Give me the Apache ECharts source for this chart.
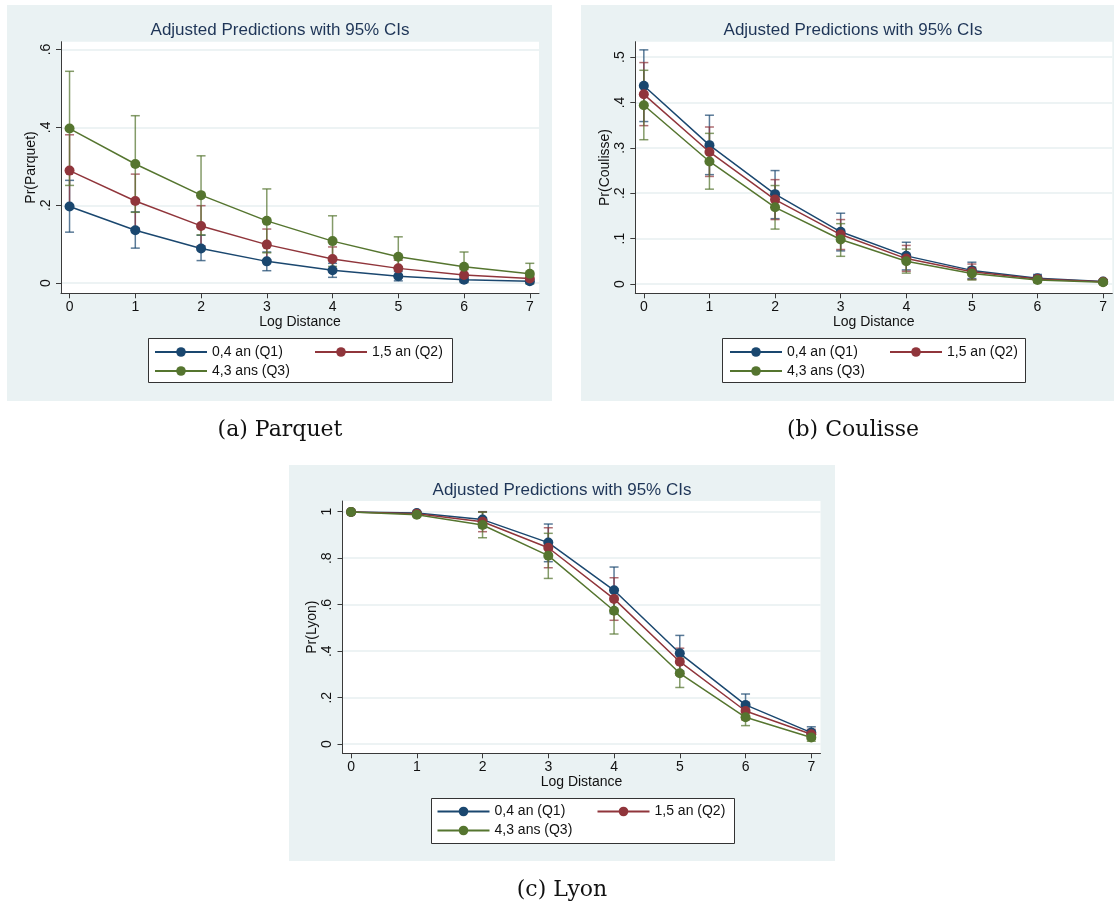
<!DOCTYPE html>
<html><head><meta charset="utf-8">
<script src="https://cdn.jsdelivr.net/npm/echarts@6/dist/echarts.min.js"></script>
<style>html,body{margin:0;padding:0;background:#fff}#c{width:1120px;height:905px}</style>
</head><body><div id="c"></div><script>
// ---------- DATA ----------
const logDistance = [0, 1, 2, 3, 4, 5, 6, 7];
const xTickValues = [0, 1, 2, 3, 4, 5, 6, 7];
const seriesNames = ['0,4 an (Q1)', '1,5 an (Q2)', '4,3 ans (Q3)'];

// Parquet
const parquetQ1   = [0.197, 0.136, 0.089, 0.056, 0.033, 0.018, 0.009, 0.005];
const parquetQ1Lo = [0.131, 0.090, 0.058, 0.032, 0.015, 0.006, 0.002, 0.001];
const parquetQ1Hi = [0.264, 0.183, 0.123, 0.080, 0.051, 0.030, 0.016, 0.009];
const parquetQ2   = [0.289, 0.211, 0.147, 0.099, 0.062, 0.038, 0.021, 0.012];
const parquetQ2Lo = [0.198, 0.142, 0.096, 0.059, 0.031, 0.016, 0.007, 0.003];
const parquetQ2Hi = [0.381, 0.280, 0.199, 0.139, 0.093, 0.059, 0.035, 0.021];
const parquetQ3   = [0.397, 0.306, 0.226, 0.160, 0.108, 0.068, 0.042, 0.024];
const parquetQ3Lo = [0.251, 0.182, 0.124, 0.078, 0.043, 0.017, 0.004, -0.002];
const parquetQ3Hi = [0.544, 0.430, 0.327, 0.242, 0.173, 0.119, 0.080, 0.051];
const parquetYTicks = [0, 0.2, 0.4, 0.6];
const parquetYLabels = ['0', '.2', '.4', '.6'];

// Coulisse
const coulisseQ1   = [0.437, 0.306, 0.198, 0.115, 0.062, 0.030, 0.0125, 0.0055];
const coulisseQ1Lo = [0.358, 0.241, 0.144, 0.073, 0.031, 0.012, 0.005, 0.002];
const coulisseQ1Hi = [0.516, 0.372, 0.250, 0.156, 0.092, 0.048, 0.021, 0.009];
const coulisseQ2   = [0.418, 0.291, 0.186, 0.109, 0.056, 0.027, 0.011, 0.005];
const coulisseQ2Lo = [0.349, 0.237, 0.142, 0.076, 0.028, 0.010, 0.004, 0.001];
const coulisseQ2Hi = [0.488, 0.346, 0.230, 0.142, 0.085, 0.044, 0.018, 0.008];
const coulisseQ3   = [0.394, 0.270, 0.169, 0.098, 0.050, 0.023, 0.009, 0.004];
const coulisseQ3Lo = [0.318, 0.209, 0.121, 0.061, 0.024, 0.009, 0.003, 0.001];
const coulisseQ3Hi = [0.471, 0.332, 0.217, 0.133, 0.077, 0.037, 0.016, 0.007];
const coulisseYTicks = [0, 0.1, 0.2, 0.3, 0.4, 0.5];
const coulisseYLabels = ['0', '.1', '.2', '.3', '.4', '.5'];

// Lyon
const lyonQ1   = [0.999, 0.994, 0.966, 0.867, 0.662, 0.391, 0.169, 0.050];
const lyonQ1Lo = [0.998, 0.988, 0.931, 0.785, 0.562, 0.315, 0.122, 0.026];
const lyonQ1Hi = [1.000, 0.999, 1.000, 0.947, 0.762, 0.468, 0.216, 0.075];
const lyonQ2   = [0.999, 0.991, 0.957, 0.845, 0.625, 0.355, 0.143, 0.043];
const lyonQ2Lo = [0.998, 0.984, 0.914, 0.759, 0.533, 0.297, 0.105, 0.022];
const lyonQ2Hi = [1.000, 0.998, 0.999, 0.931, 0.716, 0.413, 0.180, 0.064];
const lyonQ3   = [0.999, 0.987, 0.943, 0.811, 0.574, 0.305, 0.116, 0.029];
const lyonQ3Lo = [0.997, 0.978, 0.888, 0.713, 0.474, 0.244, 0.080, 0.013];
const lyonQ3Hi = [1.000, 0.996, 0.998, 0.907, 0.668, 0.370, 0.152, 0.045];
const lyonYTicks = [0, 0.2, 0.4, 0.6, 0.8, 1];
const lyonYLabels = ['0', '.2', '.4', '.6', '.8', '1'];

// ---------- LAYOUT / STYLE ----------
const colors = ['#1a476f', '#90353b', '#55752f'];
const FONT = '"Liberation Sans", Arial, sans-serif';
const panels = [
  { yName: 'Pr(Parquet)', caption: '(a) Parquet',
    vals: [parquetQ1, parquetQ2, parquetQ3], lo: [parquetQ1Lo, parquetQ2Lo, parquetQ3Lo], hi: [parquetQ1Hi, parquetQ2Hi, parquetQ3Hi],
    yTicks: parquetYTicks, yLabels: parquetYLabels, yMin: -0.026, yMax: 0.62,
    bg: [7, 5, 545, 396], grid: [61, 41.7, 478, 251.6], titleXY: [280, 30],
    legBox: [148, 338, 304, 44], legLT: [154, 342.5], capXY: [280, 430] },
  { yName: 'Pr(Coulisse)', caption: '(b) Coulisse',
    vals: [coulisseQ1, coulisseQ2, coulisseQ3], lo: [coulisseQ1Lo, coulisseQ2Lo, coulisseQ3Lo], hi: [coulisseQ1Hi, coulisseQ2Hi, coulisseQ3Hi],
    yTicks: coulisseYTicks, yLabels: coulisseYLabels, yMin: -0.0205, yMax: 0.534,
    bg: [581, 5, 533, 396], grid: [635.3, 41.7, 477, 251.6], titleXY: [853, 30],
    legBox: [722, 338, 303, 44], legLT: [729, 342.5], capXY: [853, 430] },
  { yName: 'Pr(Lyon)', caption: '(c) Lyon',
    vals: [lyonQ1, lyonQ2, lyonQ3], lo: [lyonQ1Lo, lyonQ2Lo, lyonQ3Lo], hi: [lyonQ1Hi, lyonQ2Hi, lyonQ3Hi],
    yTicks: lyonYTicks, yLabels: lyonYLabels, yMin: -0.039, yMax: 1.046,
    bg: [289, 465, 546, 396], grid: [342.5, 501, 478, 252.3], titleXY: [562, 490],
    legBox: [431, 798, 303, 45], legLT: [436.5, 802], capXY: [562, 890] }
];

const grids = [], xAxes = [], yAxes = [], series = [], legends = [], graphics = [];

panels.forEach((p, pi) => {
  graphics.push({ type: 'rect', z: -10, silent: true,
    shape: { x: p.bg[0], y: p.bg[1], width: p.bg[2], height: p.bg[3] },
    style: { fill: '#eaf2f3' } });
  graphics.push({ type: 'text', silent: true, x: p.titleXY[0], y: p.titleXY[1],
    style: { text: 'Adjusted Predictions with 95% CIs', font: '17px ' + FONT, fill: '#1e3557', align: 'center', verticalAlign: 'middle' } });
  graphics.push({ type: 'rect', z: 1, silent: true,
    shape: { x: p.legBox[0] + 0.5, y: p.legBox[1] + 0.5, width: p.legBox[2], height: p.legBox[3] },
    style: { fill: '#ffffff', stroke: '#333333', lineWidth: 1 } });
  graphics.push({ type: 'text', silent: true, x: p.capXY[0], y: p.capXY[1],
    style: { text: p.caption, font: '22px "DejaVu Serif", "Liberation Serif", serif', fill: '#111', align: 'center', verticalAlign: 'middle' } });

  grids.push({ left: p.grid[0], top: p.grid[1], width: p.grid[2], height: p.grid[3],
    show: true, backgroundColor: '#ffffff', borderWidth: 0, containLabel: false });

  xAxes.push({ gridIndex: pi, type: 'value', min: -0.13, max: 7.14,
    name: 'Log Distance', nameLocation: 'middle', nameGap: 22,
    nameTextStyle: { fontFamily: FONT, fontSize: 14, color: '#111' },
    axisLine: { show: true, onZero: false, lineStyle: { color: '#3a3a3a', width: 1 } },
    axisTick: { show: true, customValues: xTickValues, length: 5, lineStyle: { color: '#3a3a3a' } },
    axisLabel: { customValues: xTickValues, fontFamily: FONT, fontSize: 14, color: '#111', margin: 7 },
    splitLine: { show: false } });

  yAxes.push({ gridIndex: pi, type: 'value', min: p.yMin, max: p.yMax,
    name: p.yName, nameLocation: 'middle', nameGap: 23, nameRotate: 90,
    nameTextStyle: { fontFamily: FONT, fontSize: 14, color: '#111' },
    axisLine: { show: true, onZero: false, lineStyle: { color: '#3a3a3a', width: 1 } },
    axisTick: { show: true, customValues: p.yTicks, length: 5, lineStyle: { color: '#3a3a3a' } },
    axisLabel: { customValues: p.yTicks, rotate: 90, fontFamily: FONT, fontSize: 14, color: '#111', margin: 8,
      formatter: v => { const i = p.yTicks.findIndex(t => Math.abs(t - v) < 1e-9); return i >= 0 ? p.yLabels[i] : ''; } },
    splitLine: { show: true, lineStyle: { color: '#e7eff1', width: 1.5 } } });

  // CI caps (behind lines)
  for (let g = 0; g < 3; g++) {
    const col = colors[g];
    series.push({ type: 'custom', name: 'ci' + pi + g, xAxisIndex: pi, yAxisIndex: pi, z: 2, silent: true,
      encode: { x: 0, y: [1, 2] },
      data: logDistance.map((x, i) => [x, p.lo[g][i], p.hi[g][i]]),
      renderItem: (params, api) => {
        const x = api.value(0);
        const a = api.coord([x, api.value(1)]), b = api.coord([x, api.value(2)]);
        const hw = 4.5;
        const st = { stroke: col, lineWidth: 1.5, opacity: 0.72 };
        return { type: 'group', children: [
          { type: 'line', shape: { x1: a[0], y1: a[1], x2: b[0], y2: b[1] }, style: st },
          { type: 'line', shape: { x1: a[0] - hw, y1: a[1], x2: a[0] + hw, y2: a[1] }, style: st },
          { type: 'line', shape: { x1: b[0] - hw, y1: b[1], x2: b[0] + hw, y2: b[1] }, style: st }
        ] };
      } });
  }
  for (let g = 0; g < 3; g++) {
    series.push({ type: 'line', name: seriesNames[g], xAxisIndex: pi, yAxisIndex: pi, z: 3 + g,
      data: logDistance.map((x, i) => [x, p.vals[g][i]]),
      symbol: 'circle', symbolSize: 10, showSymbol: true,
      itemStyle: { color: colors[g] }, lineStyle: { color: colors[g], width: 1.5 } });
  }

  legends.push({ data: seriesNames, left: p.legLT[0], top: p.legLT[1], width: 330, orient: 'horizontal',
    itemGap: 0, itemWidth: 52, itemHeight: 12, selectedMode: false, z: 5, padding: 0,
    textStyle: { fontFamily: FONT, fontSize: 14, color: '#111', width: 102, lineHeight: 19 } });
});

const chart = echarts.init(document.getElementById('c'), null, { renderer: 'canvas' });
chart.setOption({
  animation: false,
  backgroundColor: '#ffffff',
  grid: grids, xAxis: xAxes, yAxis: yAxes, series: series, legend: legends,
  graphic: { elements: graphics }
});
</script></body></html>
